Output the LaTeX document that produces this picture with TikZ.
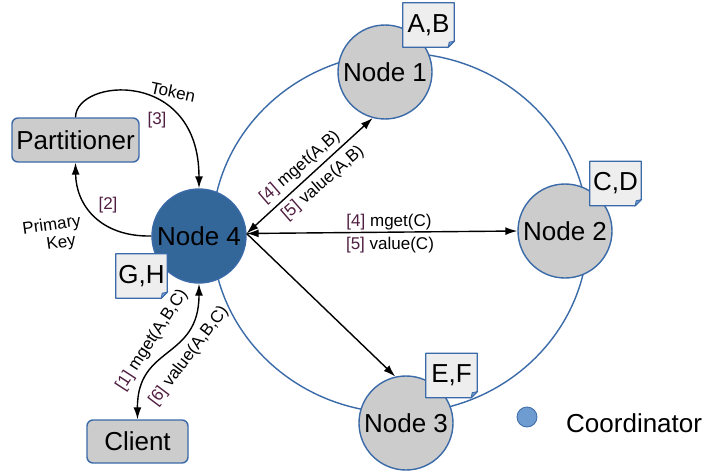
\documentclass[tikz,border=0pt]{standalone}
\usepackage{fontspec}
\setmainfont{Liberation Sans}
\usetikzlibrary{arrows.meta}
\definecolor{bblue}{RGB}{58,106,168}
\definecolor{dblue}{RGB}{51,102,153}
\definecolor{cblue}{RGB}{110,155,208}
\definecolor{ngray}{RGB}{204,204,204}
\definecolor{notegray}{RGB}{238,238,238}
\definecolor{brk}{RGB}{80,30,65}
\newcommand\br[1]{\textcolor{brk}{[#1]}}
\newcommand\mknote[4]{%
  \node[notebox] (#1) at (#2,#3) {};
  \filldraw[fill=notegray,draw=bblue,line width=1.3pt,line join=round]
    (#1.north west) -- (#1.north east) -- ([yshift=6pt]#1.south east)
    -- ([xshift=-6pt]#1.south east) -- (#1.south west) -- cycle;
  \filldraw[fill=cblue,draw=bblue,line width=0.8pt]
    ([yshift=6pt]#1.south east) -- ([xshift=-6pt]#1.south east)
    -- ([xshift=-5pt,yshift=5pt]#1.south east) -- cycle;
  \node[notetext] (#1t) at (#1) {#4};}
\tikzset{
  ringline/.style={draw=bblue,line width=1.4pt},
  srv/.style={circle,draw=bblue,line width=1.4pt,fill=ngray,minimum size=94pt,
    inner sep=0pt,font=\fontsize{26}{29}\selectfont},
  crd/.style={srv,fill=dblue},
  boxnode/.style={rectangle,rounded corners=6pt,draw=bblue,line width=1.4pt,
    fill=ngray,inner sep=0pt,font=\fontsize{26}{29}\selectfont},
  notebox/.style={rectangle,minimum width=51pt,minimum height=44pt,inner sep=0pt},
  notetext/.style={inner sep=0pt,font=\fontsize{26}{29}\selectfont},
  arr/.style={line width=1.4pt,-{Latex[length=12pt,width=8pt]}},
  darr/.style={line width=1.4pt,{Latex[length=12pt,width=8pt]}-{Latex[length=12pt,width=8pt]}},
  lbl/.style={font=\fontsize{17}{19}\selectfont,inner sep=0pt},
}
\begin{document}
\begin{tikzpicture}[x=1pt,y=-1pt]
\useasboundingbox (0,0) rectangle (705,471);
\fill[white] (0,0) rectangle (705,471);
% ring
\draw[ringline] (400,233) ellipse [x radius=188, y radius=180];
% servers
\node[srv] (n1) at (385,72) {Node 1};
\node[srv] (n2) at (565,231) {Node 2};
\node[srv] (n3) at (406,423) {Node 3};
\node[crd] (n4) at (199,236) {Node 4};
% boxes
\node[boxnode,minimum width=127pt,minimum height=44pt] (part) at (75.5,140) {Partitioner};
\node[boxnode,minimum width=101pt,minimum height=43pt] (client) at (137.5,441.5) {Client};
% notes
\mknote{ab}{428.5}{25}{A,B}
\mknote{cd}{615.5}{183.5}{C,D}
\mknote{ef}{451.5}{375.5}{E,F}
\mknote{gh}{141.5}{276}{G,H}
% legend
\node[circle,fill=cblue,draw=bblue,line width=0.8pt,minimum size=20pt,inner sep=0pt] (legdot) at (527,417) {};
\node[anchor=west,font=\fontsize{26}{29}\selectfont,inner sep=0pt] (legtxt) at (566,423) {Coordinator};
% connectors
\draw[arr] (part.north) .. controls (76,78) and (199,68) .. (n4.north);
\draw[arr] (n4.west) .. controls (100,237) and (76,205) .. (part.south);
\draw[darr] (n4.3) -- (n1.255);
\draw[darr] (n4.3) -- (n2.west);
\draw[arr] (n4.3) -- (n3.103);
\draw[darr] (n4.south) .. controls (199,360) and (137,345) .. (client.north);
% labels
\node[lbl,rotate=-12] (ltok) at (173,92) {Token};
\node[lbl] (l3) at (157,120) {\br{3}};
\node[lbl] (l2) at (108,205) {\br{2}};
\node[lbl,rotate=8,align=center] (lpk) at (53,235) {Primary\\\hspace*{14pt}Key};
\node[lbl,rotate=41] (l4a) at (300,167) {\br{4} mget(A,B)};
\node[lbl,rotate=41] (l5a) at (323,183) {\br{5} value(A,B)};
\node[lbl] (l4c) at (389,222) {\br{4} mget(C)};
\node[lbl] (l5c) at (390,245) {\br{5} value(C)};
\node[lbl,rotate=57] (l1) at (152,340) {\br{1} mget(A,B,C)};
\node[lbl,rotate=53] (l6) at (189,356) {\br{6} value(A,B,C)};
\end{tikzpicture}
\end{document}
